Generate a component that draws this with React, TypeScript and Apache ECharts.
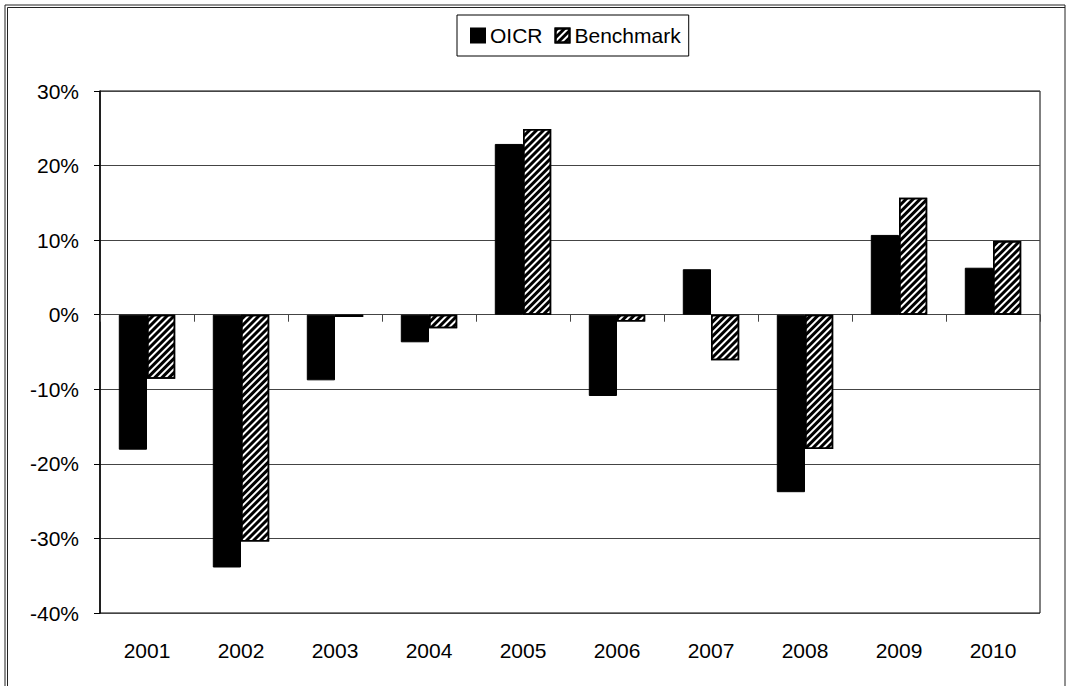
import React, { useEffect, useRef } from 'react';
import * as echarts from 'echarts';

const years = ['2001', '2002', '2003', '2004', '2005', '2006', '2007', '2008', '2009', '2010'];
const oicr = [-18.1, -33.9, -8.8, -3.7, 22.9, -10.9, 6.1, -23.8, 10.7, 6.3];
const benchmark = [-8.6, -30.4, -0.3, -1.8, 24.9, -0.9, -6.1, -18.0, 15.7, 9.9];
const seriesNames = ['OICR', 'Benchmark'];
const yMin = -40;
const yMax = 30;
const yStep = 10;

export default function App() {
  const ref = useRef<HTMLDivElement>(null);
  useEffect(() => {
    const chart = echarts.init(ref.current!, null, { renderer: 'svg' });
    const font = '"Liberation Sans", Arial, sans-serif';
    chart.setOption({
      animation: false,
      backgroundColor: '#fff',
      textStyle: { fontFamily: font, color: '#000' },
      legend: {
        data: seriesNames,
        left: 457,
        top: 15,
        orient: 'horizontal',
        padding: [10, 8, 10, 13],
        borderColor: '#000',
        borderWidth: 1,
        itemWidth: 14,
        itemHeight: 14,
        itemGap: 12,
        icon: 'rect',
        textStyle: { fontSize: 21, color: '#000', fontFamily: font },
      },
      grid: {
        left: 100,
        right: 27,
        top: 91,
        bottom: 73,
        show: true,
        borderColor: '#000',
        borderWidth: 1,
      },
      xAxis: [
        {
          type: 'category',
          data: years,
          position: 'top',
          axisLine: { show: true, onZero: true, lineStyle: { color: '#444', width: 1 } },
          axisTick: { show: true, inside: true, length: 7, lineStyle: { color: '#444' } },
          axisLabel: { show: false },
          splitLine: { show: false },
        },
        {
          type: 'category',
          data: years,
          position: 'bottom',
          axisLine: { show: false, onZero: false },
          axisTick: { show: false },
          axisLabel: { show: true, fontSize: 21, color: '#000', margin: 27, fontFamily: font },
          splitLine: { show: false },
        },
      ],
      yAxis: {
        type: 'value',
        min: yMin,
        max: yMax,
        interval: yStep,
        axisLine: { show: true, lineStyle: { color: '#000', width: 1.5 } },
        axisTick: { show: true, length: 6, lineStyle: { color: '#000' } },
        axisLabel: { formatter: '{value}%', fontSize: 21, color: '#000', margin: 21, fontFamily: font },
        splitLine: { show: true, lineStyle: { color: '#444', width: 1 } },
      },
      series: [
        {
          name: seriesNames[0],
          type: 'bar',
          xAxisIndex: 0,
          data: oicr,
          barGap: '0%',
          barCategoryGap: '40%',
          itemStyle: { color: '#000', borderColor: '#000', borderWidth: 1 },
        },
        {
          name: seriesNames[1],
          type: 'bar',
          xAxisIndex: 0,
          data: benchmark,
          barGap: '0%',
          barCategoryGap: '40%',
          itemStyle: {
            color: '#fff',
            borderColor: '#000',
            borderWidth: 1.5,
            decal: {
              symbol: 'rect',
              symbolSize: 1,
              color: '#000',
              backgroundColor: '#fff',
              dashArrayX: [1, 0],
              dashArrayY: [2.5, 2],
              rotation: -Math.PI / 4,
            },
          },
        },
      ],
      graphic: [
        {
          type: 'rect',
          silent: true,
          shape: { x: 5, y: 5, width: 1060, height: 700 },
          style: { fill: 'none', stroke: '#222', lineWidth: 1 },
        },
        {
          type: 'polyline',
          silent: true,
          shape: { points: [[7.5, 700], [7.5, 7.5], [1065, 7.5]] },
          style: { fill: 'none', stroke: '#222', lineWidth: 1 },
        },
      ],
    });
    return () => chart.dispose();
  }, []);
  return (
    <div
      ref={ref}
      style={{ position: 'fixed', left: 0, top: 0, width: 1067, height: 686, background: '#fff' }}
    />
  );
}
